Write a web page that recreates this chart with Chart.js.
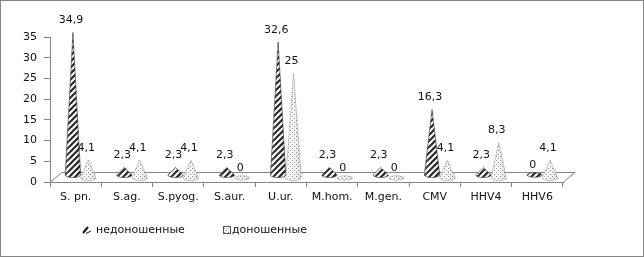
<!DOCTYPE html>
<html>
<head>
<meta charset="utf-8">
<script src="https://cdn.jsdelivr.net/npm/chart.js@4/dist/chart.umd.min.js"></script>
<style>
  html, body { margin: 0; padding: 0; background: #fff; }
  canvas { display: block; }
</style>
</head>
<body>
<canvas id="chart" width="644" height="257"></canvas>
<script>
/* ===== DATA ===== */
const categories = ["S. pn.", "S.ag.", "S.pyog.", "S.aur.", "U.ur.", "M.hom.", "M.gen.", "CMV", "HHV4", "HHV6"];
const preterm = [34.9, 2.3, 2.3, 2.3, 32.6, 2.3, 2.3, 16.3, 2.3, 0];
const fullterm = [4.1, 4.1, 4.1, 0, 25, 0, 0, 4.1, 8.3, 4.1];
const seriesNames = ["недоношенные", "доношенные"];
const yTicks = [0, 5, 10, 15, 20, 25, 30, 35];

const FONT = "DejaVu Sans";
const GREY = "#868686";

/* ===== PATTERNS ===== */
function stripePattern() {
  const c = document.createElement("canvas");
  c.width = 6; c.height = 6;
  const g = c.getContext("2d");
  g.fillStyle = "#fff";
  g.fillRect(0, 0, 6, 6);
  g.strokeStyle = "#1a1a1a";
  g.lineWidth = 2;
  [[-6, 6, 6, -6], [0, 6, 6, 0], [0, 12, 12, 0]].forEach(l => {
    g.beginPath(); g.moveTo(l[0], l[1]); g.lineTo(l[2], l[3]); g.stroke();
  });
  return g.createPattern(c, "repeat");
}

function dotPattern() {
  const c = document.createElement("canvas");
  c.width = 4; c.height = 4;
  const g = c.getContext("2d");
  g.fillStyle = "#fafafa";
  g.fillRect(0, 0, 4, 4);
  g.fillStyle = "#8c8c8c";
  g.fillRect(0, 0, 1, 1);
  g.fillRect(2, 2, 1, 1);
  return g.createPattern(c, "repeat");
}

const fills = [stripePattern(), dotPattern()];
const strokes = ["#333", "#a0a0a0"];
const baseShift = [7, 4];   // how far back each series sits
const DX = 5, DY = 5;       // 3d depth shift of the marks

const fmt = v => String(v).replace(".", ",");

/* ===== CONE DRAWING ===== */
function cone(ctx, cx, baseY, tipY, w, fill, stroke, flat) {
  const rx = w / 2, ry = flat ? 2.2 : w * 0.17;
  ctx.save();
  ctx.beginPath();
  if (flat) {
    ctx.ellipse(cx, baseY, rx, ry, 0, 0, Math.PI * 2);
  } else {
    ctx.moveTo(cx - rx, baseY);
    ctx.lineTo(cx, tipY);
    ctx.lineTo(cx + rx, baseY);
    ctx.ellipse(cx, baseY, rx, ry, 0, 0, Math.PI, false);
    ctx.closePath();
  }
  ctx.fillStyle = fill;
  ctx.fill();
  // soft shading to hint at the round body
  const gr = ctx.createLinearGradient(cx - rx, 0, cx + rx, 0);
  gr.addColorStop(0, "rgba(255,255,255,0.25)");
  gr.addColorStop(0.35, "rgba(255,255,255,0.05)");
  gr.addColorStop(1, "rgba(0,0,0,0.12)");
  ctx.fillStyle = gr;
  ctx.fill();
  ctx.lineWidth = 0.6;
  ctx.strokeStyle = stroke;
  ctx.stroke();
  ctx.restore();
}

const cones = {
  id: "cones",
  beforeDraw(chart) {
    const ctx = chart.ctx;
    ctx.save();
    ctx.fillStyle = "#fff";
    ctx.fillRect(0, 0, chart.width, chart.height);
    ctx.strokeStyle = GREY;
    ctx.lineWidth = 1;
    ctx.strokeRect(0.5, 0.5, chart.width - 1, chart.height - 1);
    ctx.restore();
  },
  beforeDatasetsDraw(chart) {
    // floor of the 3d plot
    const { ctx, chartArea: a } = chart;
    ctx.save();
    ctx.strokeStyle = GREY;
    ctx.lineWidth = 1;
    ctx.beginPath();
    ctx.moveTo(a.left, a.bottom + 0.5);
    ctx.lineTo(a.left + 12, a.bottom - 9.5);
    ctx.lineTo(a.right + 12, a.bottom - 9.5);
    ctx.lineTo(a.right, a.bottom + 0.5);
    ctx.stroke();
    ctx.restore();
  },
  afterDatasetsDraw(chart) {
    const { ctx } = chart;
    const y = chart.scales.y;
    const y0 = y.getPixelForValue(0);
    chart.data.datasets.forEach((ds, i) => {
      const meta = chart.getDatasetMeta(i);
      meta.data.forEach((bar, j) => {
        const v = ds.data[j];
        const cx = bar.x + DX;
        const baseY = y0 - baseShift[i];
        const tipY = y.getPixelForValue(v) - DY;
        cone(ctx, cx, baseY, tipY, bar.width, fills[i], strokes[i], v === 0);
      });
    });
    // value labels
    ctx.save();
    ctx.font = "11px '" + FONT + "'";
    ctx.fillStyle = "#111";
    ctx.textAlign = "center";
    ctx.textBaseline = "middle";
    chart.data.datasets.forEach((ds, i) => {
      const meta = chart.getDatasetMeta(i);
      meta.data.forEach((bar, j) => {
        const v = ds.data[j];
        const cx = bar.x + DX - 2;
        const ly = v === 0 ? y0 - baseShift[i] - 10 : y.getPixelForValue(v) - DY - 12;
        ctx.fillText(fmt(v), cx, ly);
      });
    });
    ctx.restore();
  },
  afterDraw(chart) {
    // legend
    const ctx = chart.ctx;
    const ly = 230;
    ctx.save();
    ctx.font = "11px '" + FONT + "'";
    ctx.fillStyle = "#111";
    ctx.textBaseline = "middle";
    // series 1 key: small hatched slash
    ctx.strokeStyle = "#111";
    ctx.lineWidth = 2;
    ctx.beginPath();
    ctx.moveTo(83, ly + 3);
    ctx.lineTo(88, ly - 3);
    ctx.stroke();
    ctx.lineWidth = 1;
    ctx.beginPath();
    ctx.moveTo(86, ly + 3.5);
    ctx.lineTo(91, ly + 1);
    ctx.stroke();
    ctx.fillText(seriesNames[0], 96, ly);
    // series 2 key: dotted square
    ctx.fillStyle = fills[1];
    ctx.fillRect(223, ly - 4, 8, 8);
    ctx.strokeStyle = "#555";
    ctx.strokeRect(223.5, ly - 3.5, 7, 7);
    ctx.fillStyle = "#111";
    ctx.fillText(seriesNames[1], 232, ly);
    ctx.restore();
  }
};

/* ===== CHART ===== */
new Chart(document.getElementById("chart"), {
  type: "bar",
  data: {
    labels: categories,
    datasets: [
      { label: seriesNames[0], data: preterm, backgroundColor: "rgba(0,0,0,0)", borderWidth: 0 },
      { label: seriesNames[1], data: fullterm, backgroundColor: "rgba(0,0,0,0)", borderWidth: 0 }
    ]
  },
  options: {
    responsive: false,
    animation: false,
    devicePixelRatio: 1,
    layout: { padding: { left: 0, right: 81, top: 37, bottom: 0 } },
    categoryPercentage: 0.6,
    barPercentage: 1.0,
    plugins: {
      legend: { display: false },
      tooltip: { enabled: false }
    },
    scales: {
      x: {
        grid: { drawOnChartArea: false, tickLength: 5, color: GREY, offset: true },
        border: { color: GREY },
        ticks: { color: "#111", font: { family: FONT, size: 11 }, padding: 4, maxRotation: 0, autoSkip: false },
        afterFit: s => { s.height = 75; }
      },
      y: {
        min: yTicks[0],
        max: yTicks[yTicks.length - 1],
        afterBuildTicks: s => { s.ticks = yTicks.map(v => ({ value: v })); },
        grid: { drawOnChartArea: false, tickLength: 6, color: GREY },
        border: { color: GREY },
        ticks: { color: "#111", font: { family: FONT, size: 11 }, padding: 7 },
        afterFit: s => { s.width = 50; }
      }
    }
  },
  plugins: [cones]
});
</script>
</body>
</html>
